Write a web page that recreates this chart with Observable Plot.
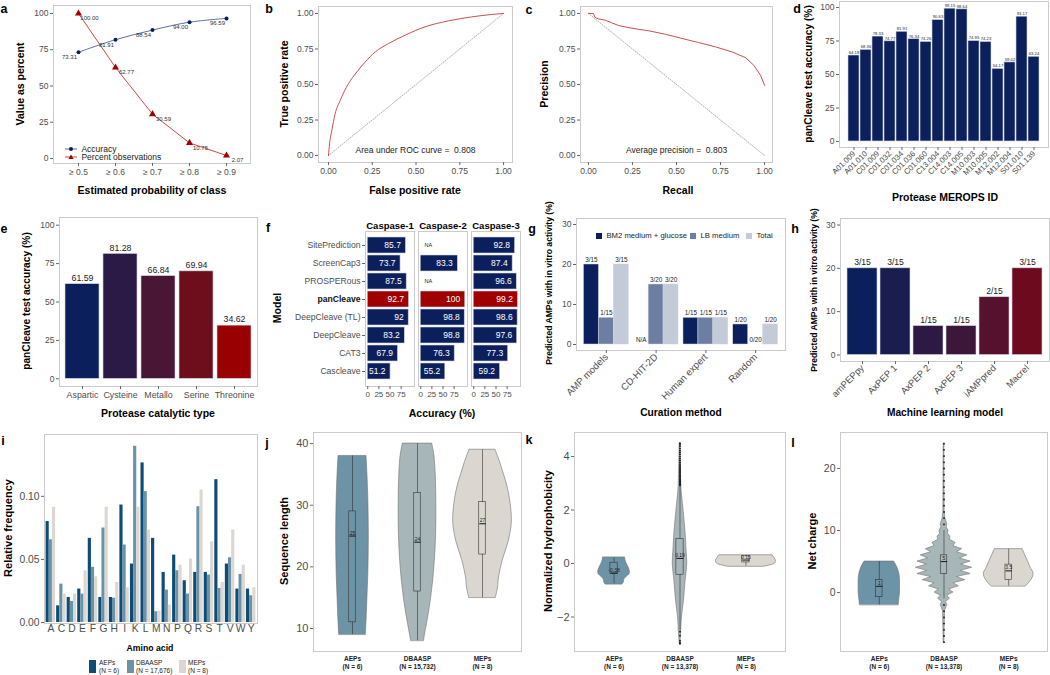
<!DOCTYPE html>
<html><head><meta charset="utf-8">
<script src="https://cdn.jsdelivr.net/npm/d3@7"></script>
<script src="https://cdn.jsdelivr.net/npm/@observablehq/plot@0.6"></script>
<style>
body{margin:0;background:#fff;}
#fig{position:relative;width:1050px;height:675px;background:#fff;font-family:"Liberation Sans",Arial,sans-serif;overflow:hidden}
.lab{position:absolute;white-space:nowrap;line-height:1;transform:translate(-50%,-50%);}
.leg{position:absolute;white-space:nowrap;line-height:1;color:#222;}
</style></head><body><div id="fig"></div><script>
// ---------------- DATA ----------------
// a
const probThresholds = ["≥ 0.5","≥ 0.6","≥ 0.7","≥ 0.8","≥ 0.9"];
const accuracyPct = [73.31,81.91,88.54,94.00,96.59];
const percentObs = [100.00,62.77,30.59,10.75,2.07];
// b
const rocFPR = [0,0.006,0.019,0.038,0.067,0.114,0.162,0.21,0.267,0.343,0.438,0.552,0.686,0.819,0.933,1];
const rocTPR = [0,0.082,0.176,0.294,0.388,0.506,0.588,0.659,0.729,0.788,0.847,0.906,0.948,0.976,0.993,1];
const chanceFPR = [0,1], chanceTPR = [0,1];
// c
const prRecall = [0,0.009,0.028,0.038,0.057,0.095,0.133,0.171,0.247,0.342,0.436,0.531,0.626,0.721,0.816,0.892,0.939,0.977,1.0];
const prPrecision = [1,1,1,0.972,0.962,0.953,0.934,0.915,0.896,0.878,0.854,0.824,0.795,0.765,0.729,0.689,0.635,0.565,0.494];
const baseRecall = [0,1], basePrecision = [1,0];
// d
const meropsIDs = ["A01.009","A01.010","C01.009","C01.032","C01.034","C01.036","C01.060","C13.004","C14.003","C14.005","M10.003","M10.005","M12.002","M12.004","S01.010","S01.139"];
const meropsAcc = [64.18,68.36,78.33,74.77,81.91,76.34,74.26,90.63,99.15,98.64,74.95,74.23,54.17,59.02,93.17,63.24];
// e
const catalyticTypes = ["Aspartic","Cysteine","Metallo","Serine","Threonine"];
const catalyticAcc = [61.59,81.28,66.84,69.94,34.62];
// f
const caspases = ["Caspase-1","Caspase-2","Caspase-3"];
const caspModels = ["SitePrediction","ScreenCap3","PROSPERous","panCleave","DeepCleave (TL)","DeepCleave","CAT3","Cascleave"];
const casp1Acc = [85.7,73.7,87.5,92.7,92,83.2,67.9,51.2];
const casp2Acc = [null,83.3,null,100,98.8,98.8,76.3,55.2];
const casp3Acc = [92.8,87.4,96.6,99.2,98.6,97.6,77.3,59.2];
// g
const curationMethods = ["AMP models","CD-HIT-2D","Human expert","Random"];
const mediumSeries = ["BM2 medium + glucose","LB medium","Total"];
const bm2Pct = [20,null,6.67,5];
const lbPct = [6.67,15,6.67,0];
const totalPct = [20,15,6.67,5];
const bm2Lab = ["3/15","N/A","1/15","1/20"];
const lbLab = ["1/15","3/20","1/15","0/20"];
const totalLab = ["3/15","3/20","1/15","1/20"];
// h
const mlModels = ["amPEPpy","AxPEP 1","AxPEP 2","AxPEP 3","iAMPpred","Macrel"];
const mlPct = [20,20,6.67,6.67,13.33,20];
const mlLab = ["3/15","3/15","1/15","1/15","2/15","3/15"];
// i
const aminoAcids = ["A","C","D","E","F","G","H","I","K","L","M","N","P","Q","R","S","T","V","W","Y"];
const aepFreq = [0.080,0.0132,0.0198,0.0265,0.0667,0.0198,0.0198,0.0931,0.0463,0.1265,0.0667,0.0397,0.0534,0.0331,0.0397,0.0397,0.1132,0.0463,0.0265,0.0265];
const dbaaspFreq = [0.0656,0.0304,0.0167,0.0225,0.0437,0.0749,0.0193,0.0614,0.1397,0.1037,0.0085,0.0257,0.041,0.0225,0.0918,0.0376,0.027,0.0513,0.0381,0.0212];
const mepFreq = [0.0913,0.0225,0.0225,0.041,0.0362,0.0913,0.0317,0.0275,0.0913,0.0733,0.009,0.0138,0.0455,0.0503,0.105,0.064,0.0317,0.0733,0.0455,0.0275];
const peptideSets = ["AEPs","DBAASP","MEPs"];
const iSetN = ["(N = 6)","(N = 17,676)","(N = 8)"];
// j  (violin profiles: [value, scaled density half-width])
const jSetN = ["(N = 6)","(N = 15,732)","(N = 8)"];
const jAEPsViolin = [[9,0.205],[11,0.215],[15,0.23],[20,0.246],[25,0.251],[30,0.246],[35,0.23],[38,0.215]];
const jDBAASPViolin = [[8,0.1],[9,0.115],[11,0.15],[15,0.21],[20,0.26],[25,0.285],[30,0.29],[35,0.28],[38,0.26],[40,0.226]];
const jMEPsViolin = [[15,0.205],[16.7,0.24],[18,0.25],[21,0.31],[24,0.4],[27,0.45],[30,0.436],[33,0.385],[35,0.33],[37,0.27],[39,0.2]];
const jLow = [9,8,15], jQ1 = [11,16,22], jMed = [25,24,27], jQ3 = [29,32,30.5], jHigh = [38,40,39];
const jMedLab = ["25","24","27"];
// k
const klSetN = ["(N = 6)","(N = 13,378)","(N = 8)"];
const kAEPsViolin = [[-0.78,0.13],[-0.7,0.15],[-0.6,0.155],[-0.5,0.19],[-0.4,0.235],[-0.3,0.24],[-0.15,0.22],[0,0.19],[0.1,0.175],[0.23,0.167]];
const kDBAASPViolin = [[-3.0,0.005],[-2.65,0.015],[-2,0.03],[-1.4,0.06],[-0.65,0.085],[0,0.11],[0.48,0.1],[1.1,0.086],[2.1,0.05],[2.7,0.025],[3.35,0.015],[4.5,0.005]];
const kMEPsViolin = [[-0.12,0.27],[-0.08,0.35],[0,0.44],[0.1,0.455],[0.2,0.435],[0.31,0.404]];
const kLow = [-0.75,-2.5,-0.1], kQ1 = [-0.38,-0.42,0.04], kMed = [-0.36,0.19,0.13], kQ3 = [0.03,0.92,0.27], kHigh = [0.2,2.9,0.3];
const kMedLab = ["-0.38","0.19","0.15"];
const kDBAASPOutliers = [2.92,2.96,3.0,3.04,3.08,3.12,3.16,3.2,3.25,3.3,3.35,3.4,3.45,3.5,3.55,3.6,3.66,3.72,3.78,3.85,3.92,4.0,4.08,4.15,4.22,4.3,4.38,4.45,4.5,-2.55,-2.7,-2.88,-2.95,-3.0];
// l
const lAEPsViolin = [[-2,0.3],[-1,0.31],[0,0.32],[1,0.32],[2,0.32],[3,0.31],[4,0.28],[5,0.23]];
const lDBAASPViolin = [[-8,0.005],[-3,0.015],[-2,0.05],[-1.5,0.03],[-1,0.09],[-0.5,0.05],[0,0.145],[0.5,0.08],[1,0.23],[1.5,0.145],[2,0.33],[2.5,0.2],[3,0.41],[3.5,0.26],[4,0.435],[4.5,0.265],[5,0.41],[5.5,0.245],[6,0.36],[6.5,0.2],[7,0.28],[7.5,0.145],[8,0.18],[8.5,0.09],[9,0.1],[9.5,0.06],[10,0.07],[10.5,0.04],[11,0.05],[12,0.02],[13,0.01],[24,0.005]];
const lMEPsViolin = [[1,0.267],[2,0.35],[3,0.385],[4,0.34],[5,0.3],[6,0.256],[7,0.215]];
const lLow = [-2,-1,1], lQ1 = [-0.75,3,2], lMed = [1,5,3.5], lQ3 = [2,6,4.5], lHigh = [5,10,7];
const lMedLab = ["1","5","3.5"];
const lDBAASPOutliers = [-8,-7,-6,-5,-4,-3,-2,11,12,13,14,15,16,17,18,19,20,21,22,23,24];

// ---------------- LAYOUT / STYLE ----------------
const fig = document.getElementById("fig");
const FONT = '"Liberation Sans", Arial, sans-serif';
const NAVY = "#0b1f5c", RED = "#a00000", FRAMEC = "#cbcbcb", BAREDGE = "#cfd3df";
const VCOL = ["#6d93a6","#a7b7b9","#dbd7d0"];
const FR = {
  a:{L:53,R:250,T:5,B:163}, b:{L:318,R:512,T:6,B:162}, c:{L:580,R:772,T:6,B:162}, d:{L:839,R:1048,T:1,B:147},
  e:{L:59,R:257,T:217,B:386}, f:{L:364,R:521,T:231,B:386}, g:{L:576,R:785,T:218,B:350}, h:{L:840,R:1049,T:218,B:361},
  i:{L:44,R:257,T:434,B:623}, j:{L:313,R:521,T:432,B:651}, k:{L:574,R:785,T:432,B:651}, l:{L:840,R:1047,T:432,B:651}
};
function mk(fr, opts, m = {}) {
  const ml = m.l ?? 40, mr = m.r ?? 6, mt = m.t ?? 6, mb = m.b ?? 40;
  const svg = Plot.plot({
    width: fr.R - fr.L + ml + mr, height: fr.B - fr.T + mt + mb,
    marginLeft: ml, marginRight: mr, marginTop: mt, marginBottom: mb,
    style: {background: "transparent", overflow: "visible", fontFamily: FONT, fontSize: "8.5px", color: "#4d4d4d"},
    ...opts
  });
  svg.style.position = "absolute";
  svg.style.left = (fr.L - ml) + "px";
  svg.style.top = (fr.T - mt) + "px";
  svg.style.maxWidth = "none";
  fig.append(svg);
  return svg;
}
const AX = {tickSize: 3, tickPadding: 2, label: null, stroke: "#666"};
const axX = (o = {}) => Plot.axisX({...AX, ...o});
const axY = (o = {}) => Plot.axisY({...AX, ...o});
const frame = () => Plot.frame({stroke: FRAMEC, strokeWidth: 1});
function T(text, x, y, o = {}) {
  const d = document.createElement("div");
  d.className = "lab"; d.textContent = text;
  d.style.left = x + "px"; d.style.top = y + "px";
  d.style.fontSize = (o.size ?? 10.5) + "px";
  d.style.fontWeight = o.weight ?? "bold";
  d.style.color = o.color ?? "#000";
  if (o.rot) d.style.transform = "translate(-50%,-50%) rotate(-90deg)";
  fig.append(d);
}
function H(html, x, y) {
  const d = document.createElement("div");
  d.className = "leg"; d.innerHTML = html;
  d.style.left = x + "px"; d.style.top = y + "px";
  fig.append(d);
}

// ---------------- a ----------------
const aData = probThresholds.map((t, i) => ({t, acc: accuracyPct[i], obs: percentObs[i]}));
mk(FR.a, {
  x: {type: "point", domain: probThresholds, padding: 0.6},
  y: {domain: [-3.45, 105.5]},
  marks: [
    frame(),
    axY({ticks: [0,25,50,75,100]}), axX(),
    Plot.line(aData, {x: "t", y: "acc", stroke: "#5b6fa9", strokeWidth: 1, curve: "catmull-rom"}),
    Plot.line(aData, {x: "t", y: "obs", stroke: "#cc4a44", strokeWidth: 1}),
    Plot.dot(aData, {x: "t", y: "acc", fill: NAVY, r: 2}),
    Plot.dot(aData, {x: "t", y: "obs", fill: RED, symbol: "triangle", r: 2.6}),
    Plot.text(aData, {x: "t", y: "acc", text: d => d.acc.toFixed(2), dx: -9, dy: 5, fontSize: 6, fill: "#333"}),
    Plot.text(aData, {x: "t", y: "obs", text: d => d.obs.toFixed(2), dx: 11, dy: 5, fontSize: 6, fill: "#333"})
  ]
});
H(`<svg width="12" height="6" style="vertical-align:middle"><line x1="0" y1="3" x2="12" y2="3" stroke="#5b6fa9"/><circle cx="6" cy="3" r="2" fill="${NAVY}"/></svg> <span style="font-size:8.5px;vertical-align:middle">Accuracy</span>`, 65, 140);
H(`<svg width="12" height="6" style="vertical-align:middle"><line x1="0" y1="3" x2="12" y2="3" stroke="#cc4a44"/><path d="M6,0.5 L8.6,5 L3.4,5 Z" fill="${RED}"/></svg> <span style="font-size:8.5px;vertical-align:middle">Percent observations</span>`, 65, 148);

// ---------------- b ----------------
const rocData = rocFPR.map((x, i) => ({x, y: rocTPR[i]}));
const chanceData = chanceFPR.map((x, i) => ({x, y: chanceTPR[i]}));
const f2 = d3.format(".2f");
mk(FR.b, {
  x: {domain: [-0.057, 1.051]}, y: {domain: [-0.049, 1.049]},
  marks: [
    frame(),
    axY({ticks: [0,0.25,0.5,0.75,1], tickFormat: f2}), axX({ticks: [0,0.25,0.5,0.75,1], tickFormat: f2}),
    Plot.line(chanceData, {x: "x", y: "y", stroke: "#9a9a9a", strokeWidth: 0.8, strokeDasharray: "1,1.5"}),
    Plot.line(rocData, {x: "x", y: "y", stroke: "#c9504c", strokeWidth: 1, curve: "monotone-x"}),
    Plot.text(["Area under ROC curve =  0.808"], {text: d => d, frameAnchor: "bottom", dy: -10, fontSize: 8.5, fill: "#222"})
  ]
});
// ---------------- c ----------------
const prData = prRecall.map((x, i) => ({x, y: prPrecision[i]}));
const baseData = baseRecall.map((x, i) => ({x, y: basePrecision[i]}));
mk(FR.c, {
  x: {domain: [-0.045, 1.045]}, y: {domain: [-0.049, 1.049]},
  marks: [
    frame(),
    axY({ticks: [0,0.25,0.5,0.75,1], tickFormat: f2}), axX({ticks: [0,0.25,0.5,0.75,1], tickFormat: f2}),
    Plot.line(baseData, {x: "x", y: "y", stroke: "#9a9a9a", strokeWidth: 0.8, strokeDasharray: "1,1.5"}),
    Plot.line(prData, {x: "x", y: "y", stroke: "#c9504c", strokeWidth: 1}),
    Plot.text(["Average precision =  0.803"], {text: d => d, frameAnchor: "bottom", dy: -10, fontSize: 8.5, fill: "#222"})
  ]
});
// ---------------- d ----------------
const dData = meropsIDs.map((id, i) => ({id, acc: meropsAcc[i]}));
mk(FR.d, {
  x: {type: "band", domain: meropsIDs, paddingInner: 0.1, paddingOuter: 0.15},
  y: {domain: [-4.5, 104.5]},
  marks: [
    frame(),
    Plot.barY(dData, {x: "id", y: "acc", fill: NAVY, stroke: BAREDGE, strokeWidth: 0.6}),
    Plot.text(dData, {x: "id", y: "acc", text: d => d.acc.toFixed(2), dy: -3, fontSize: 4.2, fill: "#222"}),
    axY({ticks: [0,25,50,75,100]}), axX({tickRotate: -45, fontSize: 7.8})
  ]
});
// ---------------- e ----------------
const eColors = ["#0b1f5c","#2a1a45","#4a1636","#6e0e1d","#990000"];
const eData = catalyticTypes.map((t, i) => ({t, acc: catalyticAcc[i]}));
mk(FR.e, {
  x: {type: "band", domain: catalyticTypes, paddingInner: 0.1, paddingOuter: 0.15},
  y: {domain: [-5, 105]},
  color: {domain: catalyticTypes, range: eColors},
  marks: [
    frame(),
    Plot.barY(eData, {x: "t", y: "acc", fill: "t", stroke: BAREDGE, strokeWidth: 0.6}),
    Plot.text(eData, {x: "t", y: "acc", text: d => d.acc.toFixed(2), dy: -6, fontSize: 8.8, fill: "#222"}),
    axY({ticks: [0,25,50,75,100]}), axX({fontSize: 8.8})
  ]
});
// ---------------- f ----------------
const caspVals = [casp1Acc, casp2Acc, casp3Acc];
const fData = [];
caspases.forEach((c, ci) => caspModels.forEach((m, mi) => fData.push({c, m, v: caspVals[ci][mi]})));
const fOk = fData.filter(d => d.v != null), fNA = fData.filter(d => d.v == null);
const fSvg = mk(FR.f, {
  fx: {domain: caspases, label: null, paddingInner: 0.07, paddingOuter: 0},
  y: {type: "band", domain: caspModels, paddingInner: 0.1, paddingOuter: 0.15},
  x: {domain: [-5, 105]},
  marks: [
    frame(),
    Plot.barX(fOk, {fx: "c", y: "m", x: "v", fill: d => d.m === "panCleave" ? RED : NAVY, stroke: BAREDGE, strokeWidth: 0.6}),
    Plot.text(fOk, {fx: "c", y: "m", x: "v", text: d => String(d.v), textAnchor: "end", dx: -5, fontSize: 8.5, fill: "#fff"}),
    Plot.text(fNA, {fx: "c", y: "m", text: () => "NA", frameAnchor: "left", textAnchor: "start", dx: 6, fontSize: 5.5, fill: "#222"}),
    axY({fontSize: 8.6}), axX({ticks: [0,25,50,75], fontSize: 8}),
    Plot.axisFx({anchor: "top", label: null, tickSize: 0, tickPadding: 3, fontSize: 9.5, fontWeight: "bold", fill: "#000"})
  ]
}, {l: 100, t: 16});
fSvg.querySelectorAll("text").forEach(t => { if (t.textContent === "panCleave") { t.style.fontWeight = "bold"; t.style.fill = "#111"; } });

// ---------------- g ----------------
const gVals = [bm2Pct, lbPct, totalPct], gLabs = [bm2Lab, lbLab, totalLab];
const gData = [];
curationMethods.forEach((m, i) => mediumSeries.forEach((s, k) => gData.push({m, i, k, s, v: gVals[k][i], lab: gLabs[k][i]})));
mk(FR.g, {
  x: {domain: [0.4, 4.6]}, y: {domain: [-1.5, 31.5]},
  color: {domain: mediumSeries, range: [NAVY, "#6c7fa3", "#c3cad8"]},
  marks: [
    frame(),
    Plot.rectY(gData.filter(d => d.v != null && d.v > 0), {x1: d => d.i + 1 - 0.45 + d.k * 0.3, x2: d => d.i + 1 - 0.15 + d.k * 0.3, y1: 0, y2: "v", fill: "s", stroke: BAREDGE, strokeWidth: 0.5}),
    Plot.text(gData, {x: d => d.i + 1 - 0.3 + d.k * 0.3, y: d => d.v ?? 0, text: "lab", dy: -4.5, fontSize: 6.3, fill: "#222"}),
    axY({ticks: [0,10,20,30]}),
    axX({ticks: [1,2,3,4], tickFormat: i => curationMethods[i - 1], tickRotate: -45, fontSize: 9.6})
  ]
});
H(`<span style="display:inline-block;width:6px;height:6px;background:${NAVY};vertical-align:middle"></span> <span style="font-size:7.7px;vertical-align:middle">BM2 medium + glucose</span>`, 596, 227);
H(`<span style="display:inline-block;width:6px;height:6px;background:#6c7fa3;vertical-align:middle"></span> <span style="font-size:7.7px;vertical-align:middle">LB medium</span>`, 690, 227);
H(`<span style="display:inline-block;width:6px;height:6px;background:#c3cad8;vertical-align:middle"></span> <span style="font-size:7.7px;vertical-align:middle">Total</span>`, 746, 227);

// ---------------- h ----------------
const hColors = ["#0b1f5c","#1b1d50","#2c1a45","#3d1739","#55112d","#6e0a1d"];
const hData = mlModels.map((m, i) => ({m, v: mlPct[i], lab: mlLab[i]}));
mk(FR.h, {
  x: {type: "band", domain: mlModels, paddingInner: 0.1, paddingOuter: 0.15},
  y: {domain: [-1.5, 31.5]},
  color: {domain: mlModels, range: hColors},
  marks: [
    frame(),
    Plot.barY(hData, {x: "m", y: "v", fill: "m", stroke: BAREDGE, strokeWidth: 0.6}),
    Plot.text(hData, {x: "m", y: "v", text: "lab", dy: -6, fontSize: 8.6, fill: "#222"}),
    axY({ticks: [0,10,20,30]}), axX({tickRotate: -45, fontSize: 9.3})
  ]
}, {r: 2});

// ---------------- i ----------------
const iVals = [aepFreq, dbaaspFreq, mepFreq];
const iData = [];
aminoAcids.forEach((a, i) => peptideSets.forEach((s, k) => iData.push({a, i, k, s, v: iVals[k][i]})));
mk(FR.i, {
  x: {domain: [0.4, 20.6]}, y: {domain: [-0.0008, 0.149]},
  color: {domain: peptideSets, range: ["#0f4c75", "#6b93a8", "#dcd8d1"]},
  marks: [
    frame(),
    Plot.rectY(iData, {x1: d => d.i + 1 - 0.45 + d.k * 0.3, x2: d => d.i + 1 - 0.15 + d.k * 0.3, y1: 0, y2: "v", fill: "s"}),
    axY({ticks: [0, 0.05, 0.1], tickFormat: f2, fontSize: 10.3}),
    axX({ticks: d3.range(1, 21), tickFormat: i => aminoAcids[i - 1], tickSize: 0, tickPadding: 1, fontSize: 10.3})
  ]
}, {l: 36});
const iCols = ["#0f4c75", "#6b93a8", "#dcd8d1"];
[[89, 99], [127, 136], [179, 188]].forEach(([sx, tx], k) => {
  H(`<span style="display:block;width:7px;height:13px;background:${iCols[k]}"></span>`, sx, 660);
  H(`<span style="font-size:6.5px;line-height:1.2;display:block">${peptideSets[k]}<br>${iSetN[k]}</span>`, tx, 659);
});

// ---------------- j, k, l (violins) ----------------
function violin(fr, yDomain, yTicks, profiles, curves, stats, medLab, setN, outliers, boxHalf, tickFs) {
  const marks = [frame()];
  profiles.forEach((p, gi) => {
    const rows = p.map(([v, w]) => ({v, x1: gi + 1 - w, x2: gi + 1 + w}));
    marks.push(Plot.areaX(rows, {y: "v", x1: "x1", x2: "x2", fill: VCOL[gi], stroke: "#707070", strokeWidth: 0.6, curve: curves[gi]}));
  });
  const box = peptideSets.map((s, gi) => ({g: gi + 1, lo: stats[0][gi], q1: stats[1][gi], med: stats[2][gi], q3: stats[3][gi], hi: stats[4][gi], lab: medLab[gi]}));
  if (outliers) marks.push(Plot.dot(outliers.map(v => ({g: 2, v})), {x: "g", y: "v", r: 0.9, fill: "#111"}));
  marks.push(
    Plot.ruleX(box, {x: "g", y1: "lo", y2: "hi", stroke: "#333", strokeWidth: 0.6}),
    Plot.rect(box, {x1: d => d.g - boxHalf, x2: d => d.g + boxHalf, y1: "q1", y2: "q3", fill: (d) => VCOL[d.g - 1], stroke: "#333", strokeWidth: 0.6}),
    Plot.link(box, {x1: d => d.g - boxHalf, x2: d => d.g + boxHalf, y1: "med", y2: "med", stroke: "#222", strokeWidth: 1.1}),
    Plot.text(box, {x: "g", y: "med", text: "lab", dy: -3, fontSize: 5, fill: "#222"}),
    axY({ticks: yTicks, fontSize: tickFs}),
    axX({ticks: [1,2,3], tickFormat: i => peptideSets[i - 1] + "\n" + setN[i - 1], tickSize: 0, tickPadding: 3, fontSize: 6.5, fontWeight: "bold", fill: "#222", lineHeight: 1.3})
  );
  return mk(fr, {x: {domain: [0.4, 3.6]}, y: {domain: yDomain}, color: {domain: VCOL, range: VCOL}, marks}, {l: 30});
}
violin(FR.j, [6.27, 41.8], [10,20,30,40], [jAEPsViolin, jDBAASPViolin, jMEPsViolin], ["catmull-rom","catmull-rom","catmull-rom"],
  [jLow, jQ1, jMed, jQ3, jHigh], jMedLab, jSetN, null, 0.05, 11);
violin(FR.k, [-3.29, 4.9], [-2,0,2,4], [kAEPsViolin, kDBAASPViolin, kMEPsViolin], ["catmull-rom","catmull-rom","catmull-rom"],
  [kLow, kQ1, kMed, kQ3, kHigh], kMedLab, klSetN, kDBAASPOutliers, 0.055, 11);
violin(FR.l, [-9.5, 25.8], [0,10,20], [lAEPsViolin, lDBAASPViolin, lMEPsViolin], ["catmull-rom","linear","catmull-rom"],
  [lLow, lQ1, lMed, lQ3, lHigh], lMedLab, klSetN, lDBAASPOutliers, 0.05, 10.5);

// ---------------- axis titles ----------------
T("Value as percent", 20, 84, {rot: true, size: 10.5});
T("Estimated probability of class", 152, 190, {size: 10.5});
T("True positive rate", 284, 84, {rot: true, size: 10.5});
T("False positive rate", 415, 190, {size: 10.5});
T("Precision", 544, 84, {rot: true, size: 10.5});
T("Recall", 678, 190, {size: 10.5});
T("panCleave test accuracy (%)", 809, 74, {rot: true, size: 10.2});
T("Protease MEROPS ID", 945, 197, {size: 10.5});
T("panCleave test accuracy (%)", 27, 301, {rot: true, size: 10.2});
T("Protease catalytic type", 158, 413, {size: 10.5});
T("Model", 277, 308, {rot: true, size: 10.5});
T("Accuracy (%)", 442, 413, {size: 10.5});
T("Predicted AMPs with in vitro activity (%)", 549, 283, {rot: true, size: 8.6});
T("Curation method", 681, 413, {size: 10.2});
T("Predicted AMPs with in vitro activity (%)", 814, 290, {rot: true, size: 8.6});
T("Machine learning model", 945, 413, {size: 10.2});
T("Relative frequency", 8, 528, {rot: true, size: 11});
T("Amino acid", 150, 648, {size: 8.7});
T("Sequence length", 284, 541, {rot: true, size: 11});
T("Normalized hydrophobicity", 548, 541, {rot: true, size: 11});
T("Net charge", 812, 541, {rot: true, size: 11});
// panel letters
[["a",4,9],["b",269,9],["c",529,10],["d",797,9],["e",4,229],["f",268,228],["g",532,229],["h",795,229],["i",3,441],["j",267,443],["k",529,440],["l",793,443]]
  .forEach(([t, x, y]) => T(t, x, y, {size: 12.5}));
</script></body></html>
